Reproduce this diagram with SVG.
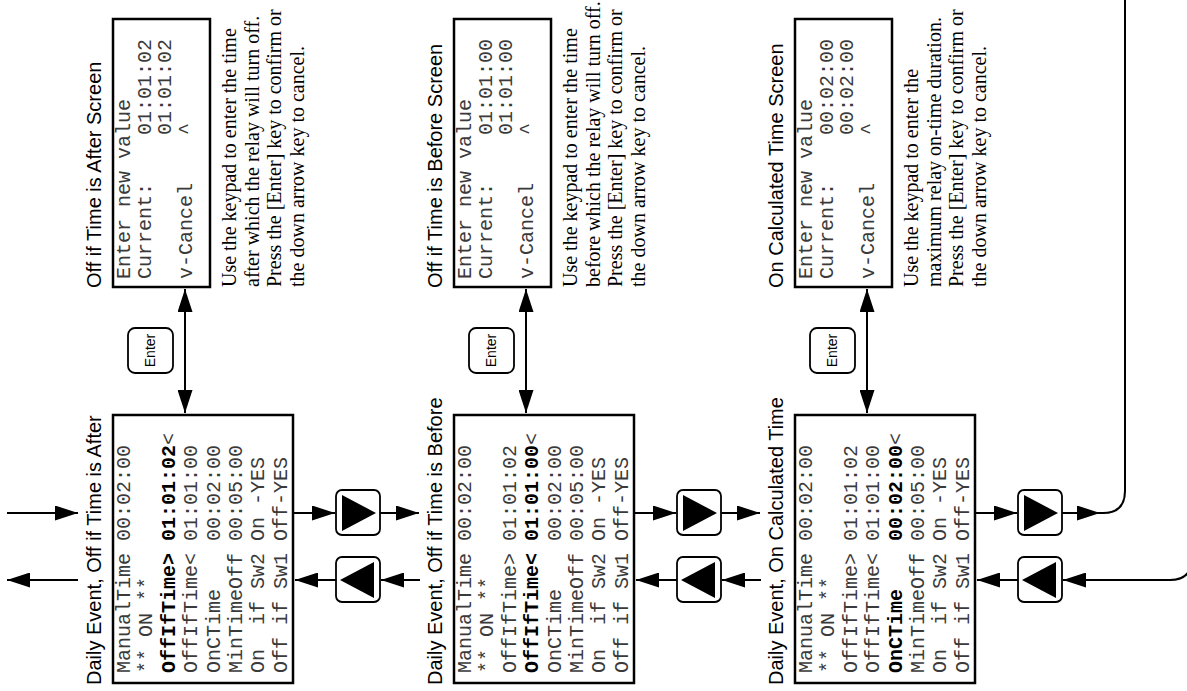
<svg xmlns="http://www.w3.org/2000/svg" width="1187" height="691" viewBox="0 0 1187 691">
<style>
.box{fill:#fff;stroke:#000;stroke-width:2.5}
.title{font-family:"Liberation Sans",Arial,sans-serif;font-size:20px;fill:#000}
.mono{font-family:"Liberation Mono","Courier New",monospace;font-size:20px;fill:#3a3a3a;white-space:pre}
.b{font-weight:bold;fill:#000}
.desc{font-family:"Liberation Serif","Times New Roman",serif;font-size:20px;fill:#000}
.key{fill:#fff;stroke:#000;stroke-width:1.8}
.keytxt{font-family:"Liberation Sans",Arial,sans-serif;font-size:14px;fill:#000;text-anchor:middle}
.tri{fill:#000}
.conn{fill:none;stroke:#000;stroke-width:2}
</style>
<defs>
<marker id="ah" markerUnits="userSpaceOnUse" viewBox="0 0 23 15" markerWidth="23" markerHeight="15" refX="23" refY="7.5" orient="auto-start-reverse">
<path d="M0,0 L23,7.5 L0,15 z" fill="#000"/>
</marker>
</defs>

<!-- Main screens -->
<g id="main1">
<text class="title" transform="translate(101,685) rotate(-90)">Daily Event, Off if Time is After</text>
<rect class="box" x="113" y="415" width="180" height="268"/>
<g transform="translate(130,673) rotate(-90)" class="mono">
<text xml:space="preserve" y="0">ManualTime 00:02:00</text>
<text xml:space="preserve" y="22.4">** ON **</text>
<text xml:space="preserve" y="44.8"><tspan class="b">OffIfTime&gt; 01:01:02</tspan>&lt;</text>
<text xml:space="preserve" y="67.2">OffIfTime&lt; 01:01:00</text>
<text xml:space="preserve" y="89.6">OnCTime    00:02:00</text>
<text xml:space="preserve" y="112">MinTimeOff 00:05:00</text>
<text xml:space="preserve" y="134.4">On  if Sw2 On -YES</text>
<text xml:space="preserve" y="156.8">Off if Sw1 Off-YES</text>
</g>
</g>

<g id="main2">
<text class="title" transform="translate(442,685) rotate(-90)">Daily Event, Off if Time is Before</text>
<rect class="box" x="454" y="415" width="180" height="268"/>
<g transform="translate(471,673) rotate(-90)" class="mono">
<text xml:space="preserve" y="0">ManualTime 00:02:00</text>
<text xml:space="preserve" y="22.4">** ON **</text>
<text xml:space="preserve" y="44.8">OffIfTime&gt; 01:01:02</text>
<text xml:space="preserve" y="67.2"><tspan class="b">OffIfTime&lt; 01:01:00</tspan>&lt;</text>
<text xml:space="preserve" y="89.6">OnCTime    00:02:00</text>
<text xml:space="preserve" y="112">MinTimeOff 00:05:00</text>
<text xml:space="preserve" y="134.4">On  if Sw2 On -YES</text>
<text xml:space="preserve" y="156.8">Off if Sw1 Off-YES</text>
</g>
</g>

<g id="main3">
<text class="title" transform="translate(783,685) rotate(-90)">Daily Event, On Calculated Time</text>
<rect class="box" x="795" y="415" width="180" height="268"/>
<g transform="translate(812,673) rotate(-90)" class="mono">
<text xml:space="preserve" y="0">ManualTime 00:02:00</text>
<text xml:space="preserve" y="22.4">** ON **</text>
<text xml:space="preserve" y="44.8">OffIfTime&gt; 01:01:02</text>
<text xml:space="preserve" y="67.2">OffIfTime&lt; 01:01:00</text>
<text xml:space="preserve" y="89.6"><tspan class="b">OnCTime    00:02:00</tspan>&lt;</text>
<text xml:space="preserve" y="112">MinTimeOff 00:05:00</text>
<text xml:space="preserve" y="134.4">On  if Sw2 On -YES</text>
<text xml:space="preserve" y="156.8">Off if Sw1 Off-YES</text>
</g>
</g>

<!-- Edit screens -->
<g id="edit1">
<text class="title" transform="translate(101,288) rotate(-90)">Off if Time is After Screen</text>
<rect class="box" x="113" y="19" width="97" height="268"/>
<g transform="translate(130,279) rotate(-90)" class="mono">
<text xml:space="preserve" y="0">Enter new value</text>
<text xml:space="preserve" y="20.7">Current:    01:01:02</text>
<text xml:space="preserve" y="41.4">            01:01:02</text>
<text xml:space="preserve" y="62.1">v-Cancel    ^</text>
</g>
<g transform="translate(236,287) rotate(-90)" class="desc">
<text y="0">Use the keypad to enter the time</text>
<text y="22.5">after which the relay will turn off.</text>
<text y="45">Press the [Enter] key to confirm or</text>
<text y="67.5">the down arrow key to cancel.</text>
</g>
</g>

<g id="edit2">
<text class="title" transform="translate(442,288) rotate(-90)">Off if Time is Before Screen</text>
<rect class="box" x="454" y="19" width="97" height="268"/>
<g transform="translate(471,279) rotate(-90)" class="mono">
<text xml:space="preserve" y="0">Enter new value</text>
<text xml:space="preserve" y="20.7">Current:    01:01:00</text>
<text xml:space="preserve" y="41.4">            01:01:00</text>
<text xml:space="preserve" y="62.1">v-Cancel    ^</text>
</g>
<g transform="translate(577,287) rotate(-90)" class="desc">
<text y="0">Use the keypad to enter the time</text>
<text y="22.5">before which the relay will turn off.</text>
<text y="45">Press the [Enter] key to confirm or</text>
<text y="67.5">the down arrow key to cancel.</text>
</g>
</g>

<g id="edit3">
<text class="title" transform="translate(783,288) rotate(-90)">On Calculated Time Screen</text>
<rect class="box" x="795" y="19" width="97" height="268"/>
<g transform="translate(812,279) rotate(-90)" class="mono">
<text xml:space="preserve" y="0">Enter new value</text>
<text xml:space="preserve" y="20.7">Current:    00:02:00</text>
<text xml:space="preserve" y="41.4">            00:02:00</text>
<text xml:space="preserve" y="62.1">v-Cancel    ^</text>
</g>
<g transform="translate(918,287) rotate(-90)" class="desc">
<text y="0">Use the keypad to enter the</text>
<text y="22.5">maximum relay on-time duration.</text>
<text y="45">Press the [Enter] key to confirm or</text>
<text y="67.5">the down arrow key to cancel.</text>
</g>
</g>

<!-- Enter keys -->
<g id="enter1">
<rect class="key" x="128" y="328" width="45" height="45" rx="7"/>
<text class="keytxt" transform="translate(155,350.5) rotate(-90)">Enter</text>
</g>
<g id="enter2">
<rect class="key" x="469" y="328" width="45" height="45" rx="7"/>
<text class="keytxt" transform="translate(496,350.5) rotate(-90)">Enter</text>
</g>
<g id="enter3">
<rect class="key" x="810" y="328" width="45" height="45" rx="7"/>
<text class="keytxt" transform="translate(837,350.5) rotate(-90)">Enter</text>
</g>

<!-- Arrow buttons -->
<g id="next1">
<rect class="key" x="336" y="490" width="44" height="45" rx="6"/>
<polygon class="tri" points="342,495 342,531 376,513"/>
</g>
<g id="prev1">
<rect class="key" x="336" y="557" width="44" height="45" rx="6"/>
<polygon class="tri" points="374,562 374,598 340,580"/>
</g>
<g id="next2">
<rect class="key" x="677" y="490" width="44" height="45" rx="6"/>
<polygon class="tri" points="683,495 683,531 717,513"/>
</g>
<g id="prev2">
<rect class="key" x="677" y="557" width="44" height="45" rx="6"/>
<polygon class="tri" points="715,562 715,598 681,580"/>
</g>
<g id="next3">
<rect class="key" x="1018" y="490" width="44" height="45" rx="6"/>
<polygon class="tri" points="1024,495 1024,531 1058,513"/>
</g>
<g id="prev3">
<rect class="key" x="1018" y="557" width="44" height="45" rx="6"/>
<polygon class="tri" points="1056,562 1056,598 1022,580"/>
</g>

<!-- Connectors -->
<g id="connectors" class="conn">
<path d="M185,289 V413" marker-start="url(#ah)" marker-end="url(#ah)"/>
<path d="M526,289 V413" marker-start="url(#ah)" marker-end="url(#ah)"/>
<path d="M867,289 V413" marker-start="url(#ah)" marker-end="url(#ah)"/>

<path d="M7,513 H78" marker-end="url(#ah)"/>
<path d="M78,580 H7" marker-end="url(#ah)"/>

<path d="M294,513 H335" marker-end="url(#ah)"/>
<path d="M336,580 H295" marker-end="url(#ah)"/>
<path d="M380,513 H419" marker-end="url(#ah)"/>
<path d="M420,580 H381" marker-end="url(#ah)"/>

<path d="M635,513 H676" marker-end="url(#ah)"/>
<path d="M677,580 H636" marker-end="url(#ah)"/>
<path d="M721,513 H760" marker-end="url(#ah)"/>
<path d="M761,580 H722" marker-end="url(#ah)"/>

<path d="M976,513 H1017" marker-end="url(#ah)"/>
<path d="M1018,580 H977" marker-end="url(#ah)"/>
<path d="M1062,513 H1100" marker-end="url(#ah)"/>
<path d="M1100,513 H1103 Q1125,513 1125,491 V-5"/>
<path d="M1192,-5 V558 Q1192,580 1170,580 H1063" marker-end="url(#ah)"/>
</g>
</svg>
